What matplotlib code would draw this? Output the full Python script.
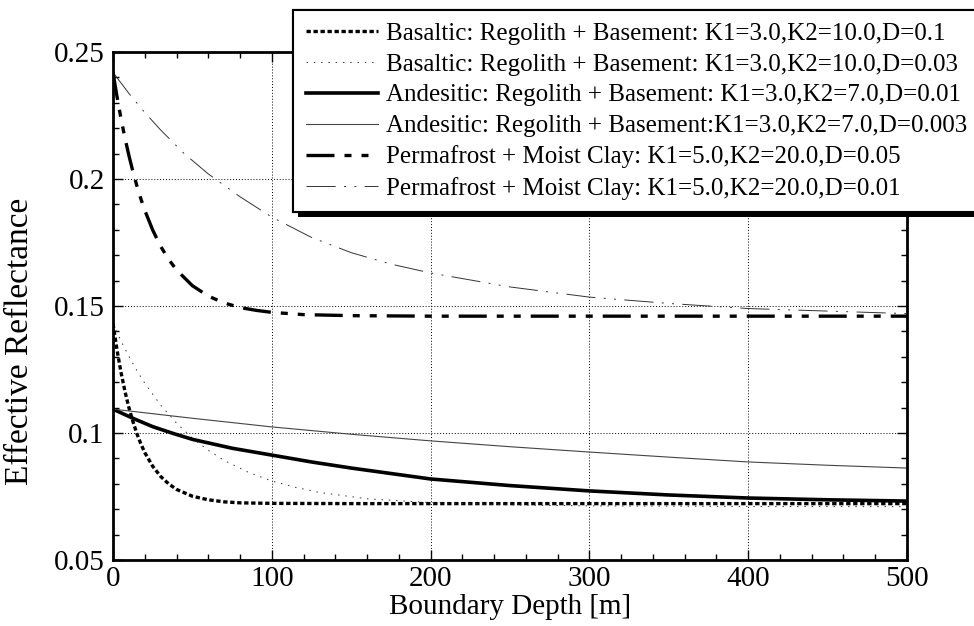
import matplotlib
matplotlib.use("Agg")
import matplotlib.pyplot as plt
import matplotlib.patheffects as pe
from matplotlib.ticker import MultipleLocator

plt.rcParams["font.family"] = ["Liberation Serif", "DejaVu Serif"]

# values
depth_b1 = [0, 2.5, 5, 7.5, 10, 12.5, 15, 17.5, 20, 25, 30, 35, 40, 50, 60, 70, 80,
            100, 150, 200, 300, 400, 500]
refl_b1 = [0.143, 0.1328, 0.1240, 0.1165, 0.1100, 0.1046, 0.0998, 0.0958, 0.0923,
           0.0869, 0.0829, 0.0800, 0.0778, 0.0751, 0.0737, 0.0729, 0.0725,
           0.0723, 0.0722, 0.0722, 0.0722, 0.0722, 0.0722]

depth_b2 = [0, 5, 10, 15, 20, 30, 40, 50, 60, 70, 85, 100, 115, 130, 160, 200, 250,
            300, 400, 500]
refl_b2 = [0.143, 0.1363, 0.1302, 0.1246, 0.1196, 0.1110, 0.1039, 0.0980, 0.0932,
           0.0892, 0.0846, 0.0811, 0.0786, 0.0766, 0.0741, 0.0726, 0.0717, 0.0713,
           0.0711, 0.0710]

depth_a1 = [0, 12.5, 25, 37.5, 50, 75, 100, 125, 150, 200, 250, 300, 350, 400, 450, 500]
refl_a1 = [0.1094, 0.1058, 0.1025, 0.0999, 0.0975, 0.0940, 0.0913, 0.0886, 0.0862,
           0.0819, 0.0793, 0.0772, 0.0756, 0.0744, 0.0737, 0.0732]

depth_a2 = [0, 50, 100, 150, 200, 250, 300, 350, 400, 450, 500]
refl_a2 = [0.1094, 0.1058, 0.1024, 0.0995, 0.0969, 0.0946, 0.0925, 0.0905, 0.0886,
           0.0873, 0.0862]

depth_p1 = [0, 2.5, 5, 7.5, 10, 12.5, 15, 17.5, 20, 25, 30, 35, 40, 50, 60, 70, 80, 90,
            100, 120, 150, 200, 300, 400, 500]
refl_p1 = [0.242, 0.2325, 0.2239, 0.2162, 0.2093, 0.2030, 0.1974, 0.1923, 0.1877,
           0.1799, 0.1735, 0.1684, 0.1642, 0.1580, 0.1539, 0.1512, 0.1494, 0.1483,
           0.1475, 0.1466, 0.1462, 0.1460, 0.1460, 0.1460, 0.1460]

depth_p2 = [0, 10, 20, 30, 45, 60, 80, 100, 125, 150, 175, 200, 250, 300, 350, 400,
            450, 500]
refl_p2 = [0.242, 0.2337, 0.2262, 0.2193, 0.2099, 0.2020, 0.1930, 0.1850, 0.1770,
           0.1710, 0.1665, 0.1630, 0.1575, 0.1535, 0.1510, 0.1490, 0.1480, 0.1470]

labels = [
    "Basaltic: Regolith + Basement: K1=3.0,K2=10.0,D=0.1",
    "Basaltic: Regolith + Basement: K1=3.0,K2=10.0,D=0.03",
    "Andesitic: Regolith + Basement: K1=3.0,K2=7.0,D=0.01",
    "Andesitic: Regolith + Basement:K1=3.0,K2=7.0,D=0.003",
    "Permafrost + Moist Clay: K1=5.0,K2=20.0,D=0.05",
    "Permafrost + Moist Clay: K1=5.0,K2=20.0,D=0.01",
]

fig = plt.figure(figsize=(9.74, 6.26), dpi=100)
ax = fig.add_axes([113 / 974, 66 / 626, 794 / 974, 508 / 626])

ax.plot(depth_b1, refl_b1, color="black", lw=2.4, ls=(0, (1.3, 0.8)), label=labels[0])
ax.plot(depth_b2, refl_b2, color="#333333", lw=0.7, ls=(0, (1.5, 6)), label=labels[1])
ax.plot(depth_a1, refl_a1, color="black", lw=2.6, ls="-", label=labels[2])
ax.plot(depth_a2, refl_a2, color="#444444", lw=0.8, ls="-", label=labels[3])
ax.plot(depth_p1, refl_p1, color="black", lw=2.4,
        ls=(0, (8.4, 3, 2.1, 3, 2.1, 3)), label=labels[4])
ax.plot(depth_p2, refl_p2, color="#333333", lw=0.7,
        ls=(0, (30, 8.6, 2, 8.6, 2, 8.6)), label=labels[5])

ax.set_xlim(0, 500)
ax.set_ylim(0.05, 0.25)
ax.xaxis.set_major_locator(MultipleLocator(100))
ax.xaxis.set_minor_locator(MultipleLocator(20))
ax.yaxis.set_minor_locator(MultipleLocator(0.01))
ax.set_yticks([0.05, 0.1, 0.15, 0.2, 0.25])
ax.set_yticklabels(["0.05", "0.1", "0.15", "0.2", "0.25"])

ax.tick_params(which="both", direction="in", top=True, right=True, labelsize=21,
               width=1.0, color="black")
ax.tick_params(which="major", length=7, pad=4)
ax.tick_params(which="minor", length=4)
ax.tick_params(axis="y", which="major", pad=6)
for sp in ax.spines.values():
    sp.set_linewidth(2.0)

ax.grid(True, which="major", ls=(0, (1, 2)), lw=0.7, color="black")

ax.set_xlabel("Boundary Depth [m]", fontsize=21, labelpad=2)
ax.set_ylabel("Effective Reflectance", fontsize=24)
ax.yaxis.set_label_coords(-0.098, 0.43)

leg = ax.legend(loc="upper left", bbox_to_anchor=(293 / 974, 1 - 10 / 626),
                bbox_transform=fig.transFigure, borderaxespad=0, fontsize=18,
                handlelength=2.9, handletextpad=0.32, borderpad=0.5,
                labelspacing=0.33, fancybox=False, framealpha=1, frameon=True)
frame = leg.get_frame()
frame.set_edgecolor("black")
frame.set_linewidth(1.5)
frame.set_path_effects([
    pe.withSimplePatchShadow(offset=(3.5, -3.5), shadow_rgbFace="black", alpha=1),
    pe.Normal(),
])
leg.set_zorder(10)

fig.savefig("out.png", dpi=100)
